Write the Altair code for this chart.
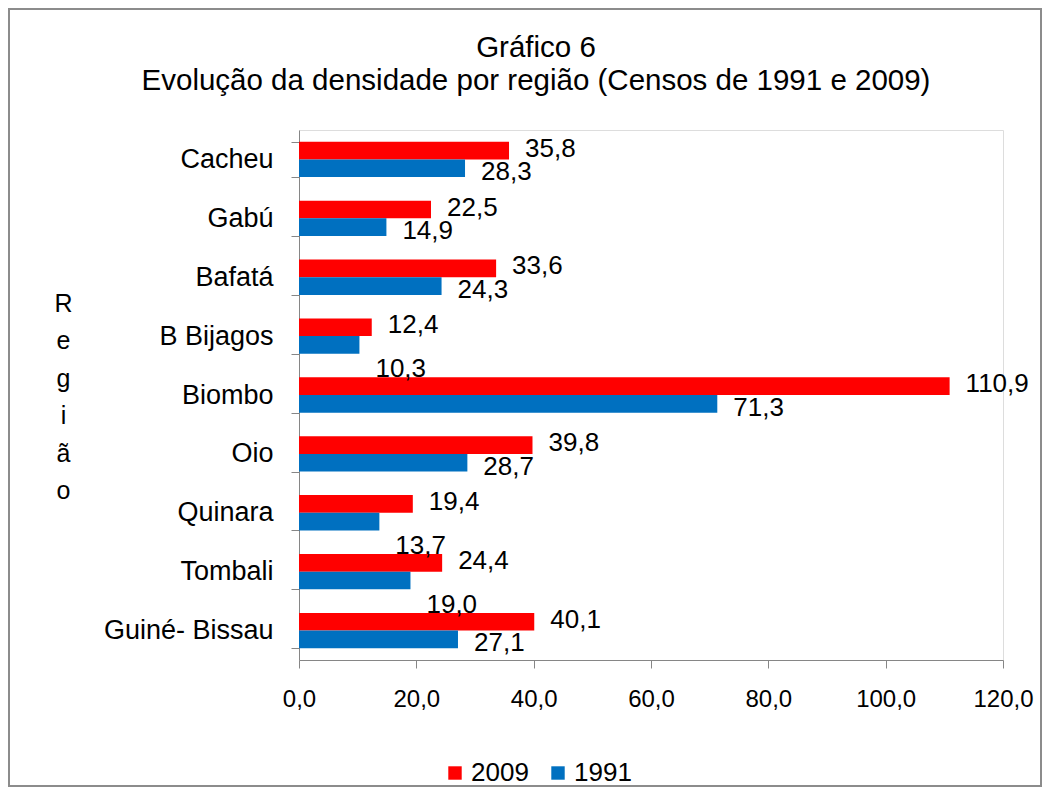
import altair as alt
import pandas as pd

regions = ["Cacheu", "Gabú", "Bafatá", "B Bijagos", "Biombo", "Oio", "Quinara", "Tombali", "Guiné- Bissau"]
v2009 = [35.8, 22.5, 33.6, 12.4, 110.9, 39.8, 19.4, 24.4, 40.1]
v1991 = [28.3, 14.9, 24.3, 10.3, 71.3, 28.7, 13.7, 19.0, 27.1]
years = ["2009", "1991"]
colors = ["#FF0000", "#0070C0"]
x_ticks = [0, 20, 40, 60, 80, 100, 120]

rows = []
for r, a, b in zip(regions, v2009, v1991):
    rows.append({"Região": r, "Ano": "2009", "Densidade": a})
    rows.append({"Região": r, "Ano": "1991", "Densidade": b})
df = pd.DataFrame(rows)

FONT = "Liberation Sans"

y_enc = alt.Y(
    "Região:N",
    sort=regions,
    scale=alt.Scale(paddingInner=0.4, paddingOuter=0.2),
    axis=alt.Axis(
        title=["R", "e", "g", "i", "ã", "o"],
        titleAngle=0,
        titleFontSize=25,
        titleFont=FONT,
        titleFontWeight="normal",
        titleColor="black",
        titleLineHeight=37.5,
        titleX=-236,
        titleY=161,
        titleAlign="center",
        titleBaseline="top",
        labelFontSize=27,
        labelFont=FONT,
        labelColor="black",
        labelPadding=18,
        tickBand="extent",
        tickSize=8,
        tickColor="#868686",
        domainColor="#868686",
        grid=False,
    ),
)
yoff = alt.YOffset("Ano:N", sort=years, scale=alt.Scale(paddingInner=0, paddingOuter=0))
x_enc = alt.X(
    "Densidade:Q",
    scale=alt.Scale(domain=[0, 120], nice=False),
    axis=alt.Axis(
        title=None,
        values=x_ticks,
        labelExpr="replace(format(datum.value, '.1f'), '.', ',')",
        labelFontSize=24,
        labelFont=FONT,
        labelColor="black",
        labelPadding=19,
        labelFlush=False,
        labelOverlap=False,
        tickSize=8,
        tickColor="#868686",
        domainColor="#868686",
        grid=False,
    ),
)

bars = alt.Chart(df).mark_bar().encode(
    x=x_enc,
    y=y_enc,
    yOffset=yoff,
    color=alt.Color(
        "Ano:N",
        sort=years,
        scale=alt.Scale(domain=years, range=colors),
        legend=alt.Legend(
            title=None,
            orient="none",
            legendX=143,
            legendY=630,
            direction="horizontal",
            symbolType="square",
            symbolSize=180,
            symbolStrokeWidth=0,
            labelFontSize=26,
            labelFont=FONT,
            labelColor="black",
            columnPadding=16,
            labelOffset=3,
        ),
    ),
)

base_lab = alt.Chart(df).transform_calculate(
    lab="replace(format(datum.Densidade, '.1f'), '.', ',')"
).transform_joinaggregate(
    mx="max(Densidade)", groupby=["Região"]
).transform_calculate(
    close="datum.Ano == '1991' && (datum.mx - datum.Densidade) < 7"
)

lab_enc = dict(
    x="Densidade:Q",
    y=alt.Y("Região:N", sort=regions),
    yOffset=yoff,
    text="lab:N",
)
txt = dict(align="left", baseline="middle", dx=16, fontSize=26, font=FONT, color="black")

lab2009 = base_lab.transform_filter("datum.Ano == '2009'").mark_text(dy=-2, **txt).encode(**lab_enc)
lab1991 = base_lab.transform_filter("datum.Ano == '1991' && !datum.close").mark_text(dy=4, **txt).encode(**lab_enc)
lab1991c = base_lab.transform_filter("datum.close").mark_text(dy=24, **txt).encode(**lab_enc)

frame = alt.Chart(pd.DataFrame({"a": [0]})).mark_rect(
    filled=False, stroke="#8c8c8c", strokeWidth=2
).encode(
    x=alt.value(-290), x2=alt.value(742), y=alt.value(-121), y2=alt.value(656)
)

chart = alt.layer(frame, bars, lab2009, lab1991, lab1991c).properties(
    width=704,
    height=530,
    padding={"left": 291, "top": 122, "right": 40, "bottom": 128},
    autosize=alt.AutoSizeParams(type="none"),
    title=alt.TitleParams(
        text=["Gráfico 6", "Evolução da densidade por região (Censos de 1991 e 2009)"],
        fontSize=29.5,
        font=FONT,
        fontWeight="normal",
        color="black",
        anchor="middle",
        frame="group",
        dx=-115,
        offset=-88,
        lineHeight=33,
    ),
).configure_view(stroke=None).configure(background="white")

chart.save("out.html", embed_options={"renderer": "svg", "actions": False})
